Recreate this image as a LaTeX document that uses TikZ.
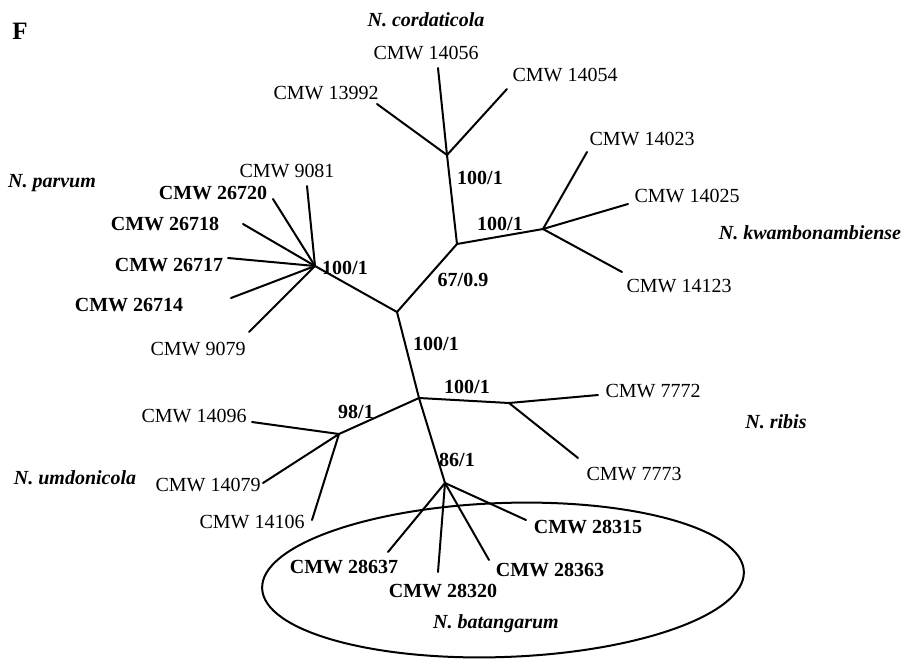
\documentclass[tikz,border=0pt]{standalone}
\usepackage{fontspec}
\setmainfont{Liberation Serif}
\usetikzlibrary{calc,positioning}

\begin{document}
\begin{tikzpicture}[x=0.5pt, y=-0.5pt, line width=1pt, line cap=round]
        \tikzset{
                strain/.style   = {inner sep=0pt, font=\fontsize{10}{12}\selectfont},
                newstrain/.style = {strain, font=\fontsize{10}{12}\selectfont\bfseries},
                species/.style  = {strain, font=\fontsize{10}{12}\selectfont\bfseries\itshape},
                support/.style  = {newstrain}
        }
        \useasboundingbox (0,0) rectangle (912,660);

        % panel letter
        \node[strain, font=\fontsize{12.5}{14}\selectfont\bfseries] (panel) at (20,31) {F};

        % internal nodes of the tree
        \coordinate (mid)   at (397,312);
        \coordinate (upper) at (457,244);
        \coordinate (lower) at (419,398);
        \coordinate (cord)  at (447,155);
        \coordinate (kwam)  at (543,229);
        \coordinate (parv)  at (315,266);
        \coordinate (umdo)  at (339,434);
        \coordinate (ribi)  at (509,403);
        \coordinate (bata)  at (445,483);

        % ends of the branches
        \coordinate (t13992) at (377,104);
        \coordinate (t14056) at (438,68);
        \coordinate (t14054) at (507,89);
        \coordinate (t14023) at (587,152);
        \coordinate (t14025) at (628,204);
        \coordinate (t14123) at (622,272);
        \coordinate (t9081)  at (307,186);
        \coordinate (t26720) at (273,199);
        \coordinate (t26718) at (243,224);
        \coordinate (t26717) at (228,258);
        \coordinate (t26714) at (231,298);
        \coordinate (t9079)  at (249,332);
        \coordinate (t14096) at (252,422);
        \coordinate (t14079) at (263,483);
        \coordinate (t14106) at (312,520);
        \coordinate (t7772)  at (598,395);
        \coordinate (t7773)  at (578,458);
        \coordinate (t28315) at (526,520);
        \coordinate (t28637) at (388,552);
        \coordinate (t28320) at (438,572);
        \coordinate (t28363) at (489,560);

        % backbone
        \draw (cord) -- (upper) -- (kwam);
        \draw (upper) -- (mid) -- (lower) -- (bata);
        \draw (mid) -- (parv);
        \draw (lower) -- (ribi);
        \draw (lower) -- (umdo);

        % terminal branches, one loop per clade
        \foreach \tip in {t13992,t14056,t14054} \draw (cord) -- (\tip);
        \foreach \tip in {t14023,t14025,t14123} \draw (kwam) -- (\tip);
        \foreach \tip in {t9081,t26720,t26718,t26717,t26714,t9079} \draw (parv) -- (\tip);
        \foreach \tip in {t14096,t14079,t14106} \draw (umdo) -- (\tip);
        \foreach \tip in {t7772,t7773} \draw (ribi) -- (\tip);
        \foreach \tip in {t28315,t28637,t28320,t28363} \draw (bata) -- (\tip);

        % the new species
        \coordinate (oval) at (503,580);
        \draw[rotate around={2:(oval)}] (oval) ellipse [x radius=241, y radius=77];

        % strain names
        \begin{scope}[every node/.style={strain}]
                \node (s13992) at (326,93)  {CMW 13992};
                \node (s14056) at (426,53)  {CMW 14056};
                \node (s14054) at (565,75)  {CMW 14054};
                \node (s14023) at (642,139) {CMW 14023};
                \node (s14025) at (687,196) {CMW 14025};
                \node (s14123) at (679,286) {CMW 14123};
                \node (s9081)  at (287,171) {CMW 9081};
                \node (s9079)  at (198,349) {CMW 9079};
                \node (s14096) at (194,416) {CMW 14096};
                \node (s14079) at (208,485) {CMW 14079};
                \node (s14106) at (252,522) {CMW 14106};
                \node (s7772)  at (653,391) {CMW 7772};
                \node (s7773)  at (634,474) {CMW 7773};
        \end{scope}
        \begin{scope}[every node/.style={newstrain}]
                \node (s26720) at (213,193) {CMW 26720};
                \node (s26718) at (165,224) {CMW 26718};
                \node (s26717) at (169,265) {CMW 26717};
                \node (s26714) at (129,305) {CMW 26714};
                \node (s28315) at (588,527) {CMW 28315};
                \node (s28637) at (344,567) {CMW 28637};
                \node (s28320) at (443,591) {CMW 28320};
                \node (s28363) at (550,570) {CMW 28363};
        \end{scope}

        % species names
        \begin{scope}[every node/.style={species}]
                \node (ncord) at (426,20)  {N. cordaticola};
                \node (nkwam) at (810,233) {N. kwambonambiense};
                \node (nparv) at (52,183)  {N. parvum};
                \node (numdo) at (75,478)  {N. umdonicola};
                \node (nribi) at (776,422) {N. ribis};
                \node (nbata) at (496,624) {N. batangarum};
        \end{scope}

        % support values
        \begin{scope}[every node/.style={support}]
                \node (b1) at (480,178) {100/1};
                \node (b2) at (500,224) {100/1};
                \node (b3) at (463,280) {67/0.9};
                \node (b4) at (345,268) {100/1};
                \node (b5) at (436,344) {100/1};
                \node (b6) at (356,412) {98/1};
                \node (b7) at (467,387) {100/1};
                \node (b8) at (457,460) {86/1};
        \end{scope}
\end{tikzpicture}
\end{document}
